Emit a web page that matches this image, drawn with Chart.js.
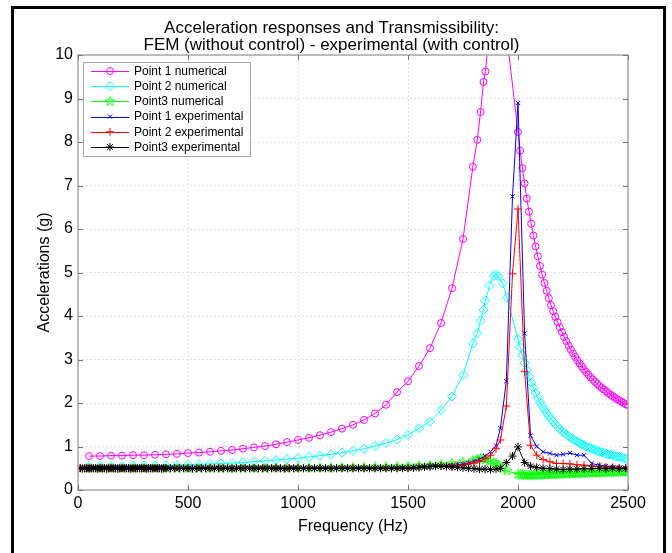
<!DOCTYPE html>
<html>
<head>
<meta charset="utf-8">
<script src="https://cdn.jsdelivr.net/npm/chart.js@4.4.1/dist/chart.umd.min.js"></script>
<style>
  html, body { margin: 0; padding: 0; background: #fff; }
</style>
</head>
<body>
<canvas id="chart" width="672" height="553"></canvas>
<script>
// numerical model (FEM) frequency grid, Hz
const numFreq = [
  50, 100, 150, 200, 250, 300, 350, 400, 450, 500,
  550, 600, 650, 700, 750, 800, 850, 900, 950, 1000,
  1050, 1100, 1150, 1200, 1250, 1300, 1350, 1400, 1450, 1500,
  1550, 1600, 1650, 1700, 1750,
  1795, 1815, 1830, 1843, 1852, 1870, 1890, 1900, 1910, 1930, 1950,
  2000, 2010, 2020, 2030, 2040, 2050, 2060, 2070, 2080, 2090,
  2100, 2110, 2120, 2130, 2140, 2150, 2160, 2170, 2180, 2190,
  2200, 2210, 2220, 2230, 2240, 2250, 2260, 2270, 2280, 2290,
  2300, 2310, 2320, 2330, 2340, 2350, 2360, 2370, 2380, 2390,
  2400, 2410, 2420, 2430, 2440, 2450, 2460, 2470, 2480, 2490,
  2500
];
const p1Num = [
  0.78, 0.78, 0.79, 0.79, 0.80, 0.80, 0.81, 0.82, 0.83, 0.85,
  0.86, 0.88, 0.90, 0.92, 0.95, 0.98, 1.01, 1.05, 1.10, 1.15,
  1.20, 1.26, 1.33, 1.41, 1.50, 1.61, 1.76, 1.96, 2.25, 2.50,
  2.85, 3.26, 3.84, 4.64, 5.77,
  7.43, 8.05, 8.69, 9.38, 9.62, 10.55, 11.30, 11.60, 11.70, 11.30, 10.39,
  8.23, 7.80, 7.40, 7.05, 6.70, 6.40, 6.12, 5.85, 5.60, 5.37,
  5.15, 4.95, 4.76, 4.58, 4.41, 4.25, 4.11, 3.98, 3.86, 3.74,
  3.63, 3.52, 3.42, 3.32, 3.23, 3.14, 3.06, 2.98, 2.91, 2.84,
  2.77, 2.71, 2.65, 2.59, 2.54, 2.49, 2.44, 2.39, 2.35, 2.31,
  2.27, 2.23, 2.19, 2.16, 2.12, 2.09, 2.06, 2.03, 2.00, 1.97,
  1.95
];
const p2Num = [
  0.55, 0.55, 0.55, 0.55, 0.56, 0.56, 0.56, 0.57, 0.57, 0.58,
  0.59, 0.60, 0.61, 0.62, 0.63, 0.65, 0.67, 0.69, 0.71, 0.73,
  0.76, 0.79, 0.82, 0.86, 0.90, 0.95, 1.01, 1.08, 1.16, 1.27,
  1.42, 1.57, 1.84, 2.15, 2.64,
  3.37, 3.60, 3.90, 4.14, 4.35, 4.70, 4.92, 4.95, 4.92, 4.75, 4.42,
  3.47, 3.28, 3.10, 2.92, 2.76, 2.61, 2.47, 2.35, 2.23, 2.12,
  2.02, 1.93, 1.85, 1.77, 1.70, 1.63, 1.57, 1.51, 1.46, 1.41,
  1.36, 1.32, 1.28, 1.24, 1.20, 1.17, 1.14, 1.11, 1.08, 1.05,
  1.03, 1.00, 0.98, 0.96, 0.94, 0.92, 0.90, 0.88, 0.87, 0.85,
  0.84, 0.82, 0.81, 0.80, 0.78, 0.77, 0.76, 0.75, 0.73, 0.72,
  0.71
];
const p3Num = [
  0.50, 0.50, 0.50, 0.50, 0.50, 0.50, 0.50, 0.50, 0.50, 0.50,
  0.50, 0.50, 0.50, 0.50, 0.50, 0.50, 0.50, 0.51, 0.51, 0.51,
  0.51, 0.51, 0.51, 0.52, 0.52, 0.52, 0.53, 0.53, 0.54, 0.55,
  0.56, 0.57, 0.59, 0.61, 0.64,
  0.68, 0.71, 0.73, 0.72, 0.70, 0.66, 0.63, 0.60, 0.57, 0.50, 0.44,
  0.36, 0.35, 0.35, 0.34, 0.34, 0.34, 0.34, 0.34, 0.35, 0.35,
  0.35, 0.35, 0.35, 0.36, 0.36, 0.36, 0.36, 0.36, 0.37, 0.37,
  0.37, 0.37, 0.37, 0.38, 0.38, 0.38, 0.38, 0.38, 0.39, 0.39,
  0.39, 0.39, 0.39, 0.40, 0.40, 0.40, 0.40, 0.40, 0.40, 0.41,
  0.41, 0.41, 0.41, 0.41, 0.41, 0.42, 0.42, 0.42, 0.42, 0.42,
  0.42
];

// experimental frequency grid, Hz
const expFreq = [
  10, 20, 30, 40, 50, 60, 70, 80, 90, 100,
  110, 120, 130, 140, 150, 160, 170, 180, 190, 200,
  210, 220, 230, 240, 250, 260, 270, 280, 290, 300,
  310, 320, 330, 340, 350, 360, 370, 380, 390, 400,
  420, 440, 460, 480, 500, 520, 540, 560, 580, 600,
  620, 640, 660, 680, 700, 720, 740, 760, 780, 800,
  820, 840, 860, 880, 900, 920, 940, 960, 980, 1000,
  1025, 1050, 1075, 1100, 1125, 1150, 1175, 1200, 1225, 1250,
  1275, 1300, 1325, 1350, 1375, 1400, 1425, 1450, 1475, 1500,
  1525, 1550, 1575, 1600, 1625, 1650, 1675, 1700, 1725, 1750,
  1775, 1800, 1825, 1850, 1875, 1900,
  1920, 1947, 1975, 2000, 2030, 2057, 2085, 2114, 2145, 2175,
  2205, 2236, 2268, 2300, 2335, 2370, 2400, 2430, 2460, 2490
];
const p1Exp = [
  0.50, 0.50, 0.50, 0.50, 0.50, 0.50, 0.50, 0.50, 0.50, 0.50,
  0.50, 0.50, 0.50, 0.50, 0.50, 0.50, 0.50, 0.50, 0.50, 0.50,
  0.50, 0.50, 0.50, 0.50, 0.50, 0.50, 0.50, 0.50, 0.50, 0.50,
  0.50, 0.50, 0.50, 0.50, 0.50, 0.50, 0.50, 0.50, 0.50, 0.50,
  0.50, 0.50, 0.50, 0.50, 0.50, 0.50, 0.50, 0.50, 0.50, 0.50,
  0.50, 0.50, 0.50, 0.50, 0.50, 0.50, 0.50, 0.50, 0.50, 0.50,
  0.50, 0.50, 0.50, 0.50, 0.50, 0.50, 0.50, 0.50, 0.50, 0.50,
  0.50, 0.50, 0.50, 0.50, 0.50, 0.50, 0.50, 0.50, 0.50, 0.50,
  0.50, 0.50, 0.50, 0.50, 0.50, 0.50, 0.50, 0.50, 0.51, 0.51,
  0.51, 0.52, 0.53, 0.54, 0.55, 0.55, 0.55, 0.56, 0.58, 0.60,
  0.62, 0.66, 0.70, 0.78, 0.88, 1.02,
  1.42, 2.50, 6.75, 8.90, 3.60, 1.25, 1.00, 0.88, 0.84, 0.80,
  0.82, 0.85, 0.80, 0.80, 0.61, 0.57, 0.55, 0.53, 0.52, 0.50
];
const p2Exp = [
  0.50, 0.50, 0.50, 0.50, 0.50, 0.50, 0.50, 0.50, 0.50, 0.50,
  0.50, 0.50, 0.50, 0.50, 0.50, 0.50, 0.50, 0.50, 0.50, 0.50,
  0.50, 0.50, 0.50, 0.50, 0.50, 0.50, 0.50, 0.50, 0.50, 0.50,
  0.50, 0.50, 0.50, 0.50, 0.50, 0.50, 0.50, 0.50, 0.50, 0.50,
  0.50, 0.50, 0.50, 0.50, 0.50, 0.50, 0.50, 0.50, 0.50, 0.50,
  0.50, 0.50, 0.50, 0.50, 0.50, 0.50, 0.50, 0.50, 0.50, 0.50,
  0.50, 0.50, 0.50, 0.50, 0.50, 0.50, 0.50, 0.50, 0.50, 0.50,
  0.50, 0.50, 0.50, 0.50, 0.50, 0.50, 0.50, 0.50, 0.50, 0.50,
  0.50, 0.50, 0.50, 0.50, 0.50, 0.50, 0.50, 0.50, 0.51, 0.51,
  0.51, 0.52, 0.53, 0.54, 0.55, 0.55, 0.55, 0.55, 0.56, 0.58,
  0.60, 0.62, 0.66, 0.72, 0.80, 0.95,
  1.15, 1.93, 4.97, 6.46, 2.72, 1.03, 0.80, 0.70, 0.65, 0.61,
  0.61, 0.60, 0.58, 0.57, 0.55, 0.54, 0.53, 0.52, 0.51, 0.50
];
const p3Exp = [
  0.50, 0.49, 0.50, 0.50, 0.49, 0.50, 0.50, 0.50, 0.49, 0.50,
  0.50, 0.50, 0.49, 0.50, 0.50, 0.50, 0.50, 0.49, 0.50, 0.50,
  0.50, 0.50, 0.50, 0.49, 0.50, 0.50, 0.50, 0.50, 0.50, 0.50,
  0.49, 0.50, 0.50, 0.50, 0.50, 0.50, 0.50, 0.49, 0.50, 0.50,
  0.50, 0.50, 0.50, 0.50, 0.50, 0.49, 0.50, 0.50, 0.50, 0.50,
  0.50, 0.50, 0.50, 0.50, 0.49, 0.50, 0.50, 0.50, 0.50, 0.50,
  0.50, 0.50, 0.50, 0.50, 0.50, 0.50, 0.49, 0.50, 0.50, 0.50,
  0.50, 0.50, 0.50, 0.50, 0.50, 0.50, 0.50, 0.50, 0.50, 0.50,
  0.50, 0.50, 0.50, 0.50, 0.50, 0.50, 0.50, 0.50, 0.50, 0.50,
  0.51, 0.52, 0.53, 0.54, 0.55, 0.55, 0.54, 0.53, 0.52, 0.51,
  0.50, 0.49, 0.48, 0.48, 0.47, 0.48,
  0.50, 0.63, 0.78, 0.99, 0.63, 0.55, 0.52, 0.50, 0.49, 0.48,
  0.47, 0.48, 0.48, 0.49, 0.49, 0.50, 0.49, 0.50, 0.49, 0.50
];

const xTicks = [0, 500, 1000, 1500, 2000, 2500];
const yTicks = [0, 1, 2, 3, 4, 5, 6, 7, 8, 9, 10];

Chart.defaults.font.family = "'Liberation Sans', Arial, sans-serif";
Chart.defaults.color = '#000';

// matlab pentagram marker, drawn once on a small canvas
const pentagram = document.createElement('canvas');
pentagram.width = 11;
pentagram.height = 11;
const pc = pentagram.getContext('2d');
pc.strokeStyle = '#00ff00';
pc.lineWidth = 1;
pc.beginPath();
for (let k = 0; k < 10; k++) {
  const r = k % 2 === 0 ? 5 : 2;
  const a = -Math.PI / 2 + k * Math.PI / 5;
  const px = 5.5 + r * Math.cos(a);
  const py = 5.5 + r * Math.sin(a);
  if (k === 0) pc.moveTo(px, py); else pc.lineTo(px, py);
}
pc.closePath();
pc.stroke();

function series(label, xs, ys, color, style, radius, order) {
  return {
    label: label,
    data: xs.map((x, i) => ({ x: x, y: ys[i] })),
    borderColor: color,
    borderWidth: 1,
    pointStyle: style,
    pointRadius: radius,
    pointHoverRadius: radius,
    pointBorderColor: color,
    pointBackgroundColor: 'rgba(0,0,0,0)',
    pointBorderWidth: 1,
    tension: 0,
    fill: false,
    order: order
  };
}

const datasets = [
  series('Point 1 numerical', numFreq, p1Num, '#ff00ff', 'circle', 3.5, 5),
  series('Point 2 numerical', numFreq, p2Num, '#00ffff', 'rectRot', 4.5, 4),
  series('Point3 numerical', numFreq, p3Num, '#00ff00', pentagram, 5, 3),
  series('Point 1 experimental', expFreq, p1Exp, '#0000ff', 'crossRot', 3, 2),
  series('Point 2 experimental', expFreq, p2Exp, '#ff0000', 'cross', 4, 1),
  series('Point3 experimental', expFreq, p3Exp, '#000000', 'star', 4, 0)
];

const matlabLook = {
  id: 'matlabLook',
  beforeDraw(chart) {
    const ctx = chart.ctx;
    ctx.save();
    ctx.fillStyle = '#fff';
    ctx.fillRect(0, 0, chart.width, chart.height);
    ctx.restore();
  },
  afterDatasetsDraw(chart) {
    const ctx = chart.ctx;
    const a = chart.chartArea;
    const xs = chart.scales.x, ys = chart.scales.y;
    ctx.save();
    ctx.strokeStyle = '#a8a8a8';
    ctx.lineWidth = 1.5;
    ctx.strokeRect(a.left, a.top, a.right - a.left, a.bottom - a.top);
    ctx.strokeStyle = '#777';
    ctx.lineWidth = 1;
    ctx.beginPath();
    xTicks.forEach(v => {
      const px = Math.round(xs.getPixelForValue(v)) + 0.5;
      ctx.moveTo(px, a.bottom); ctx.lineTo(px, a.bottom - 5);
      ctx.moveTo(px, a.top); ctx.lineTo(px, a.top + 5);
    });
    yTicks.forEach(v => {
      const py = Math.round(ys.getPixelForValue(v)) + 0.5;
      ctx.moveTo(a.left, py); ctx.lineTo(a.left + 5, py);
      ctx.moveTo(a.right, py); ctx.lineTo(a.right - 5, py);
    });
    ctx.stroke();
    ctx.restore();
  },
  afterDraw(chart) {
    const ctx = chart.ctx;
    ctx.save();
    // legend box
    const lx = 83, ly = 62, lw = 167, lh = 94;
    ctx.fillStyle = '#fff';
    ctx.fillRect(lx, ly, lw, lh);
    ctx.strokeStyle = '#a8a8a8';
    ctx.lineWidth = 1;
    ctx.strokeRect(lx + 0.5, ly + 0.5, lw, lh);
    ctx.font = "12px 'Liberation Sans', Arial, sans-serif";
    ctx.textBaseline = 'middle';
    ctx.textAlign = 'left';
    chart.data.datasets.forEach((ds, i) => {
      const y = ly + 9 + i * 15.2;
      ctx.strokeStyle = ds.borderColor;
      ctx.lineWidth = 1;
      ctx.beginPath();
      ctx.moveTo(91, Math.round(y) + 0.5);
      ctx.lineTo(129, Math.round(y) + 0.5);
      ctx.stroke();
      ctx.fillStyle = 'rgba(0,0,0,0)';
      Chart.helpers.drawPoint(ctx, {
        pointStyle: ds.pointStyle, radius: ds.pointRadius, borderWidth: 1, rotation: 0
      }, 110, y);
      ctx.fillStyle = '#000';
      ctx.fillText(ds.label, 134, y + 0.5);
    });
    // figure frame
    ctx.strokeStyle = '#000';
    ctx.lineWidth = 3;
    ctx.beginPath();
    ctx.moveTo(12.5, 560);
    ctx.lineTo(12.5, 7.5);
    ctx.lineTo(664.5, 7.5);
    ctx.lineTo(664.5, 560);
    ctx.stroke();
    ctx.restore();
  }
};

new Chart(document.getElementById('chart').getContext('2d'), {
  type: 'line',
  data: { datasets: datasets },
  options: {
    responsive: false,
    animation: false,
    devicePixelRatio: 1,
    layout: { padding: { left: 35, right: 44, top: 20, bottom: 17 } },
    scales: {
      x: {
        type: 'linear',
        min: 0,
        max: 2500,
        afterFit: (scale) => { scale.height = 46; },
        afterBuildTicks: (scale) => { scale.ticks = xTicks.map(v => ({ value: v })); },
        ticks: { padding: 4, font: { size: 16 }, color: '#000', callback: (v) => String(v) },
        grid: { color: '#e2e2e2', drawTicks: false },
        border: { display: false, dash: [2, 2] },
        title: { display: true, text: 'Frequency (Hz)', font: { size: 16 }, color: '#000', padding: 0 }
      },
      y: {
        type: 'linear',
        min: 0,
        max: 10,
        afterFit: (scale) => { scale.width = 43; },
        afterBuildTicks: (scale) => { scale.ticks = yTicks.map(v => ({ value: v })); },
        ticks: { padding: 5, font: { size: 16 }, color: '#000', callback: (v) => String(v) },
        grid: { color: '#e2e2e2', drawTicks: false },
        border: { display: false, dash: [2, 2] },
        title: { display: true, text: 'Accelerations (g)', font: { size: 16 }, color: '#000', padding: 0 }
      }
    },
    plugins: {
      legend: { display: false },
      tooltip: { enabled: false },
      title: {
        display: true,
        text: ['Acceleration responses and Transmissibility:', 'FEM (without control) - experimental (with control)'],
        color: '#000',
        font: { size: 17, weight: 'normal', lineHeight: 1.0 },
        padding: { top: 0, bottom: 1 }
      }
    }
  },
  plugins: [matlabLook]
});
</script>
</body>
</html>
